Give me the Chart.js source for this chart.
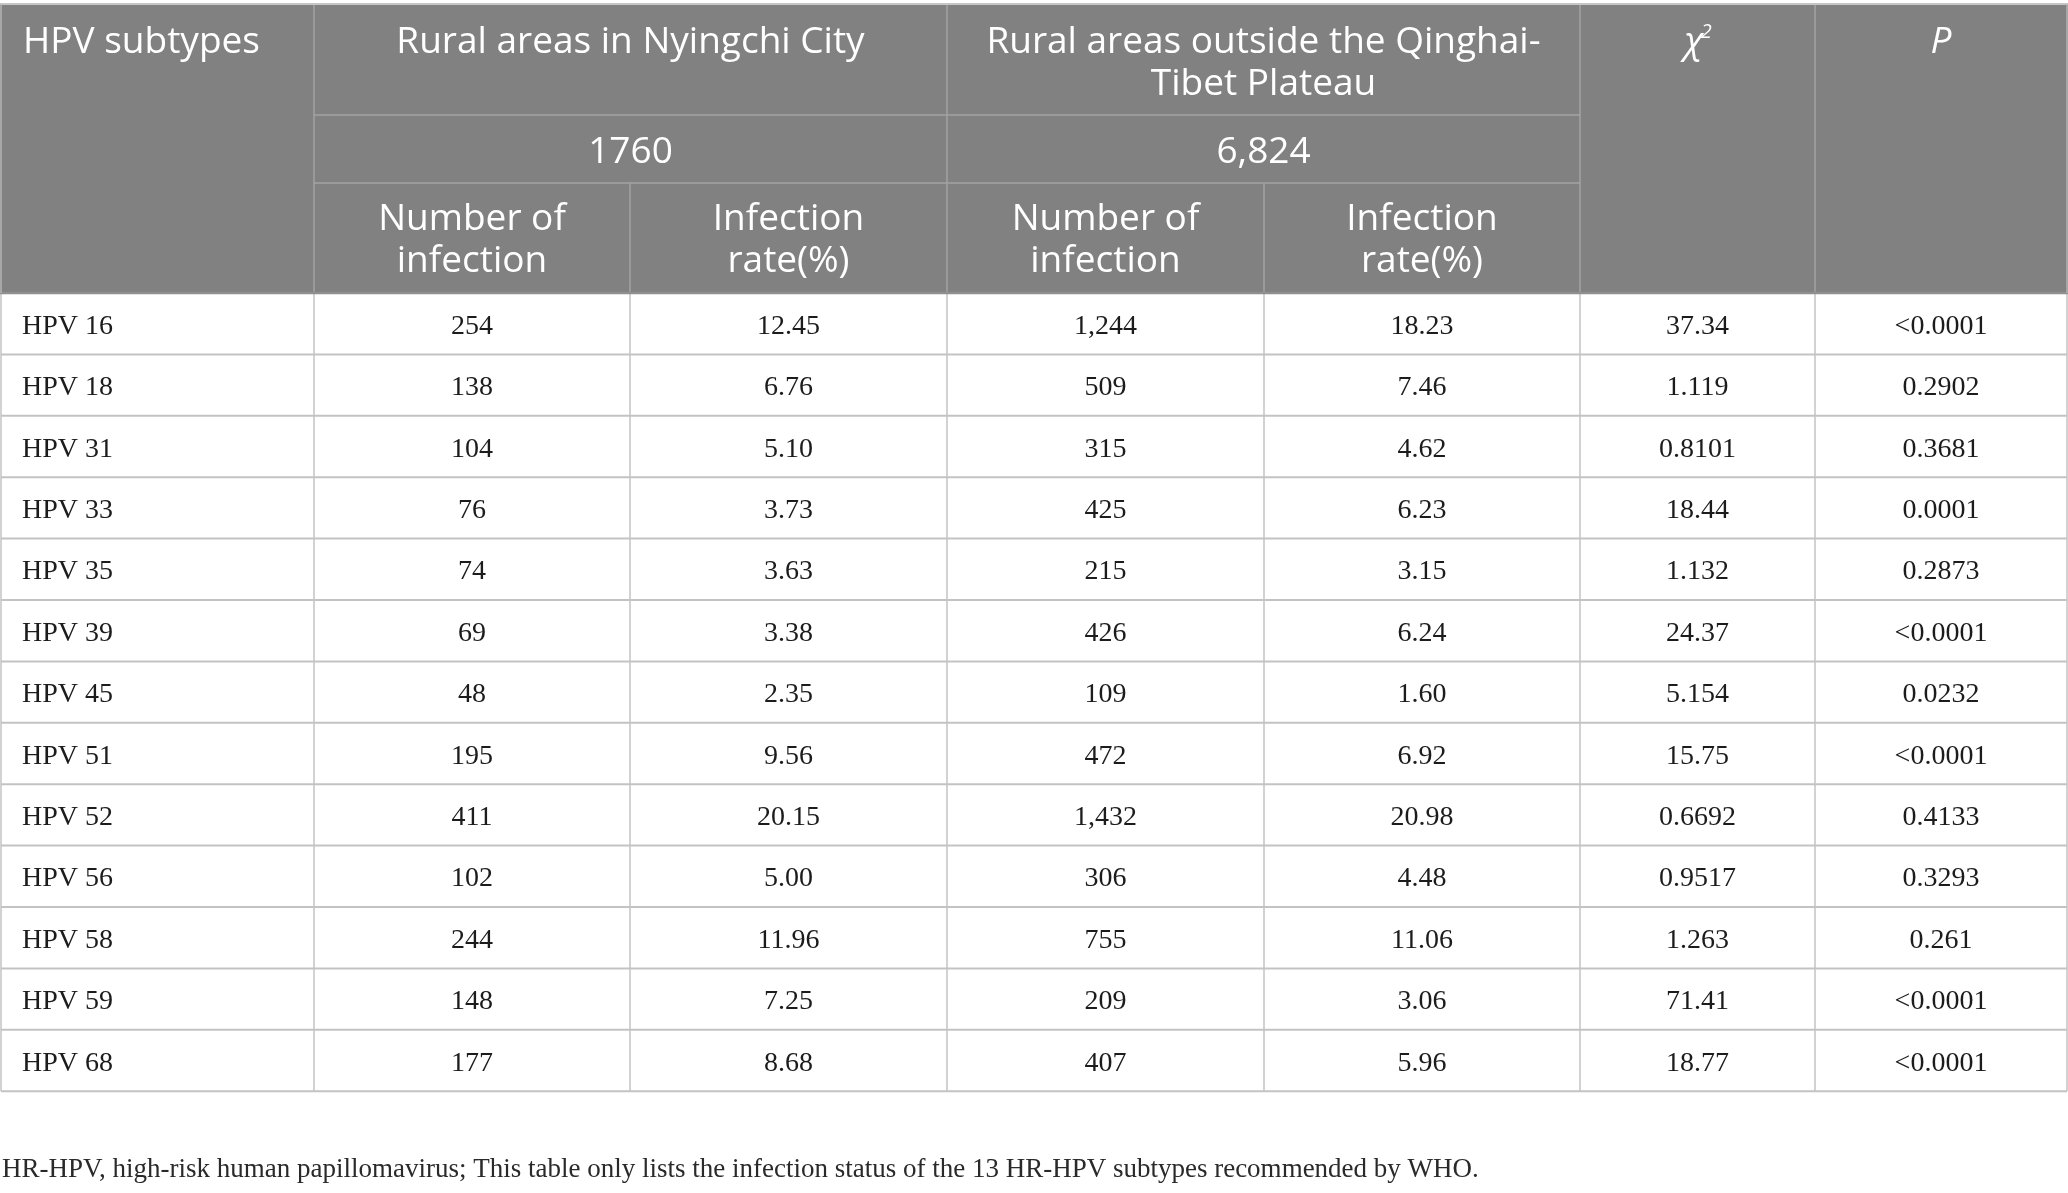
<!DOCTYPE html>
<html>
<head>
<meta charset="utf-8">
<script src="https://cdn.jsdelivr.net/npm/chart.js@4.4.0/dist/chart.umd.min.js"></script>
<style>
  html, body { margin: 0; padding: 0; background: #fff; }
  canvas { display: block; }
</style>
</head>
<body>
<canvas id="table" width="2068" height="1193"></canvas>
<script>
// table values
var subtypes = ['HPV 16', 'HPV 18', 'HPV 31', 'HPV 33', 'HPV 35', 'HPV 39', 'HPV 45',
                'HPV 51', 'HPV 52', 'HPV 56', 'HPV 58', 'HPV 59', 'HPV 68'];
var nyingchiCount = [254, 138, 104, 76, 74, 69, 48, 195, 411, 102, 244, 148, 177];
var nyingchiRate = [12.45, 6.76, 5.10, 3.73, 3.63, 3.38, 2.35, 9.56, 20.15, 5.00, 11.96, 7.25, 8.68];
var outsideCount = [1244, 509, 315, 425, 215, 426, 109, 472, 1432, 306, 755, 209, 407];
var outsideRate = [18.23, 7.46, 4.62, 6.23, 3.15, 6.24, 1.60, 6.92, 20.98, 4.48, 11.06, 3.06, 5.96];
var chiSquare = [37.34, 1.119, 0.8101, 18.44, 1.132, 24.37, 5.154, 15.75, 0.6692, 0.9517, 1.263, 71.41, 18.77];
var pValues = ['<0.0001', '0.2902', '0.3681', '0.0001', '0.2873', '<0.0001', '0.0232',
               '<0.0001', '0.4133', '0.3293', '0.261', '<0.0001', '<0.0001'];

var groupLabels = [['Rural areas in Nyingchi City'], ['Rural areas outside the Qinghai-', 'Tibet Plateau']];
var sampleSizes = ['1760', '6,824'];
var subHeaders = [['Number of', 'infection'], ['Infection', 'rate(%)']];
var footnote = 'HR-HPV, high-risk human papillomavirus; This table only lists the infection status of the 13 HR-HPV subtypes recommended by WHO.';

// layout (in scale units, which are page pixels)
var colEdges = [1, 314, 630, 947, 1264, 1580, 1815, 2067];
var headerEdges = [4, 115, 183, 293];
var rowHeight = 61.4;

var headFont = '37px "Open Sans", sans-serif';
var headItalic = 'italic 37px "Open Sans", sans-serif';
var bodyFont = '28px "Liberation Serif", "Times New Roman", serif';
var footFont = '27px "Liberation Serif", "Times New Roman", serif';

function fmtCount(v) { return v.toLocaleString('en-US'); }

var tablePlugin = {
  id: 'tableDraw',
  afterDraw: function (chart) {
    var ctx = chart.ctx;
    var xs = chart.scales.x, ys = chart.scales.y;
    var px = function (v) { return xs.getPixelForValue(v); };
    var py = function (v) { return ys.getPixelForValue(v); };
    var bodyTop = headerEdges[3];
    var bodyBottom = bodyTop + rowHeight * subtypes.length;
    var mid = function (a, b) { return (px(colEdges[a]) + px(colEdges[b])) / 2; };

    ctx.save();
    // header fill
    ctx.fillStyle = '#808180';
    ctx.fillRect(px(colEdges[0]) - 1, py(headerEdges[0]), px(colEdges[7]) - px(colEdges[0]) + 2, py(bodyTop) - py(headerEdges[0]));

    function hline(x0, x1, yv, color, w) {
      ctx.strokeStyle = color; ctx.lineWidth = w;
      ctx.beginPath(); ctx.moveTo(px(x0), py(yv)); ctx.lineTo(px(x1), py(yv)); ctx.stroke();
    }
    function vline(xv, y0, y1, color, w) {
      ctx.strokeStyle = color; ctx.lineWidth = w;
      ctx.beginPath(); ctx.moveTo(px(xv), py(y0)); ctx.lineTo(px(xv), py(y1)); ctx.stroke();
    }

    // header grid lines
    var hc = '#a2a3a2';
    hline(colEdges[1], colEdges[5], headerEdges[1], hc, 1.5);
    hline(colEdges[1], colEdges[5], headerEdges[2], hc, 1.5);
    vline(colEdges[1], headerEdges[0], bodyTop, hc, 1.5);
    vline(colEdges[3], headerEdges[0], bodyTop, hc, 1.5);
    vline(colEdges[5], headerEdges[0], bodyTop, hc, 1.5);
    vline(colEdges[6], headerEdges[0], bodyTop, hc, 1.5);
    vline(colEdges[2], headerEdges[2], bodyTop, hc, 1.5);
    vline(colEdges[4], headerEdges[2], bodyTop, hc, 1.5);

    // body grid lines
    var bc = '#c3c3c3';
    for (var r = 1; r <= subtypes.length; r++) {
      hline(colEdges[0], colEdges[7], bodyTop + r * rowHeight, bc, 2);
    }
    for (var c = 0; c < colEdges.length; c++) {
      vline(colEdges[c], bodyTop, bodyBottom, bc, 1.5);
    }
    // outer top + header bottom
    hline(colEdges[0] - 1, colEdges[7] + 1, headerEdges[0], '#c6c6c6', 2);
    hline(colEdges[0] - 1, colEdges[7] + 1, bodyTop, '#8f8f8f', 2.5);
    vline(colEdges[0], headerEdges[0], bodyTop, '#b5b5b5', 1.5);
    vline(colEdges[7], headerEdges[0], bodyTop, '#b5b5b5', 1.5);

    // header text
    ctx.fillStyle = '#ffffff';
    ctx.textBaseline = 'alphabetic';
    ctx.font = headFont;
    ctx.textAlign = 'left';
    ctx.fillText('HPV subtypes', px(colEdges[0]) + 22, py(headerEdges[0]) + 49);
    ctx.textAlign = 'center';
    groupLabels.forEach(function (lines, g) {
      lines.forEach(function (t, k) {
        ctx.fillText(t, mid(1 + 2 * g, 3 + 2 * g), py(headerEdges[0]) + 49 + k * 42);
      });
      var sc = (py(headerEdges[1]) + py(headerEdges[2])) / 2;
      ctx.fillText(sampleSizes[g], mid(1 + 2 * g, 3 + 2 * g), sc + 14);
      var rc = (py(headerEdges[2]) + py(bodyTop)) / 2;
      subHeaders.forEach(function (sub, s) {
        var cx = mid(1 + 2 * g + s, 2 + 2 * g + s);
        ctx.fillText(sub[0], cx, rc - 8);
        ctx.fillText(sub[1], cx, rc + 34);
      });
    });
    ctx.font = headItalic;
    var chiX = mid(5, 6);
    var chiW = ctx.measureText('\u03c7').width;
    ctx.fillText('\u03c7', chiX - 4, py(headerEdges[0]) + 49);
    ctx.font = 'italic 20px "Open Sans", sans-serif';
    ctx.textAlign = 'left';
    ctx.fillText('2', chiX - 4 + chiW / 2 - 2, py(headerEdges[0]) + 34);
    ctx.textAlign = 'center';
    ctx.font = headItalic;
    ctx.fillText('P', mid(6, 7), py(headerEdges[0]) + 49);

    // body text
    ctx.fillStyle = '#1c1c1c';
    ctx.font = bodyFont;
    subtypes.forEach(function (name, i) {
      var yb = py(bodyTop + (i + 0.5) * rowHeight) + 10;
      ctx.textAlign = 'left';
      ctx.fillText(name, px(colEdges[0]) + 21, yb);
      ctx.textAlign = 'center';
      ctx.fillText(fmtCount(nyingchiCount[i]), mid(1, 2), yb);
      ctx.fillText(nyingchiRate[i].toFixed(2), mid(2, 3), yb);
      ctx.fillText(fmtCount(outsideCount[i]), mid(3, 4), yb);
      ctx.fillText(outsideRate[i].toFixed(2), mid(4, 5), yb);
      ctx.fillText(chiSquare[i].toPrecision(4), mid(5, 6), yb);
      ctx.fillText(pValues[i], mid(6, 7), yb);
    });

    // footnote
    ctx.fillStyle = '#2a2a2a';
    ctx.font = footFont;
    ctx.textAlign = 'left';
    ctx.fillText(footnote, px(2), py(1177));
    ctx.restore();
  }
};

new Chart(document.getElementById('table'), {
  type: 'scatter',
  data: { datasets: [] },
  options: {
    responsive: false,
    devicePixelRatio: 1,
    animation: false,
    layout: { padding: 0 },
    plugins: { legend: { display: false }, tooltip: { enabled: false } },
    scales: {
      x: { type: 'linear', min: 0, max: 2068, display: false },
      y: { type: 'linear', min: 0, max: 1193, reverse: true, display: false }
    }
  },
  plugins: [tablePlugin]
});
</script>
</body>
</html>
